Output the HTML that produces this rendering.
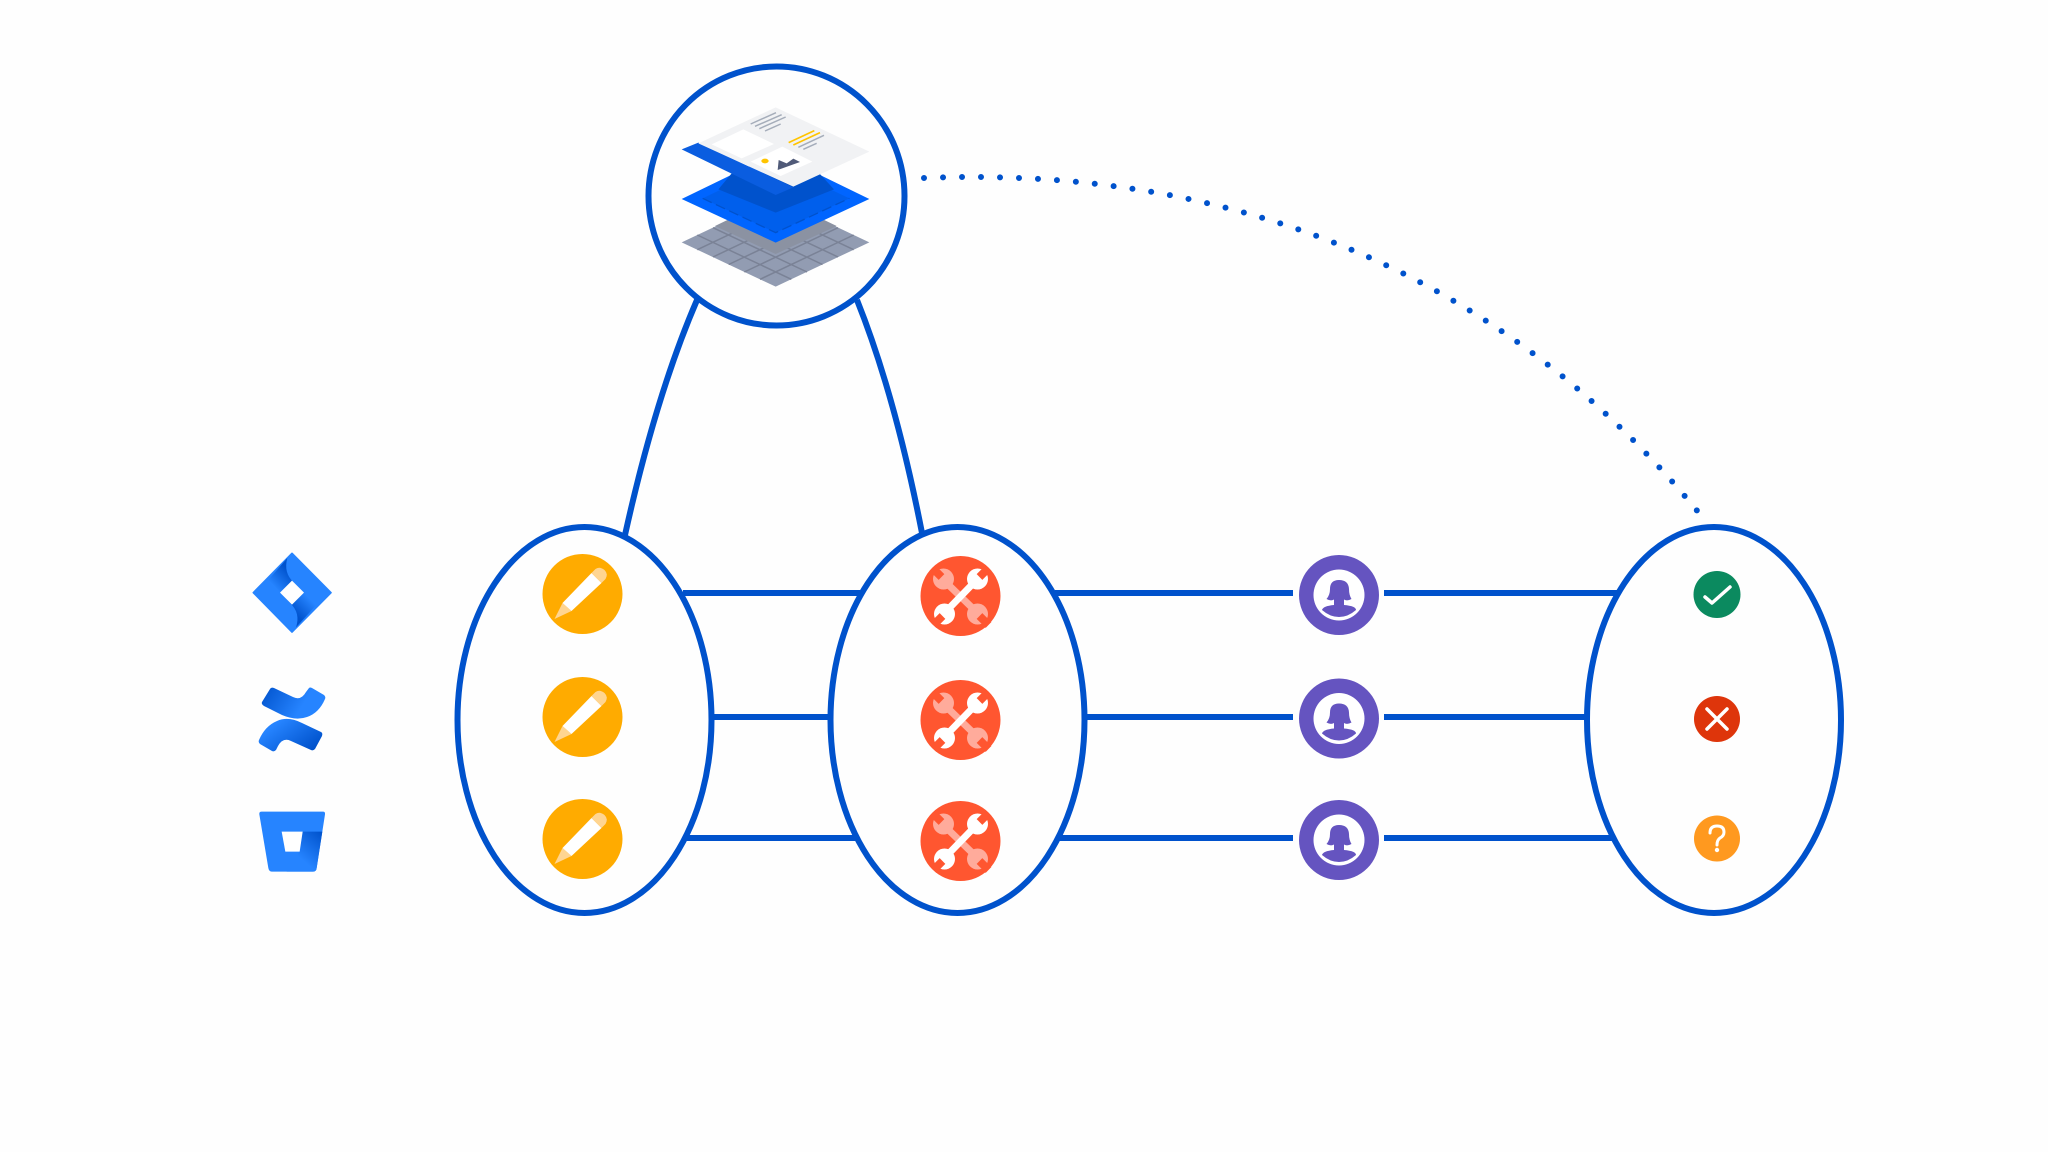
<!DOCTYPE html>
<html><head><meta charset="utf-8"><style>html,body{margin:0;padding:0;background:#fefefe}svg{display:block}</style></head>
<body>
<svg xmlns="http://www.w3.org/2000/svg" width="2048" height="1152" viewBox="0 0 2048 1152">
<defs>
<linearGradient id="g3" x1="0" y1="0" x2="1" y2="0.300"><stop offset="0" stop-color="#0052cc"/><stop offset=".75" stop-color="#2684ff"/></linearGradient>
<linearGradient id="g2" x1="1" y1="0.700" x2="0" y2="0"><stop offset="0" stop-color="#0052cc"/><stop offset=".75" stop-color="#2684ff"/></linearGradient>
<linearGradient id="j1" gradientUnits="userSpaceOnUse" x1="172" y1="118" x2="125" y2="162"><stop offset="0" stop-color="#0052cc"/><stop offset="1" stop-color="#2684ff"/></linearGradient>
<linearGradient id="j2" gradientUnits="userSpaceOnUse" x1="202" y1="260" x2="248" y2="215"><stop offset="0" stop-color="#0052cc"/><stop offset="1" stop-color="#2684ff"/></linearGradient>
<linearGradient id="b1" gradientUnits="userSpaceOnUse" x1="278" y1="908" x2="212" y2="985"><stop offset="0" stop-color="#0052cc"/><stop offset="1" stop-color="#2684ff"/></linearGradient>
<g id="pencil">
<circle r="40" fill="#ffab00"/>
<path d="M-28 25 L-20 9 L-11 17 Z" fill="#ffd591"/>
<path d="M-20 9 L9 -21 L19 -11 L-11 17 Z" fill="#fff"/>
<path d="M9 -21 L13 -25 Q17 -28 22 -24 Q26 -20 23 -15 L19 -11 Z" fill="#ffd591"/>
</g>
<g id="wrench">
<circle r="40" fill="#ff5630"/>
<path d="M-16 -15 L16 16" stroke="#ffab9b" stroke-width="7" fill="none"/>
<circle cx="-17" cy="-17" r="10.500" fill="#ffab9b"/>
<circle cx="17" cy="18" r="10.500" fill="#ffab9b"/>
<path d="M-19 -19 L-28 -28 M19 20 L28 29" stroke="#ff5630" stroke-width="8" fill="none"/>
<path d="M-16 17 L16 -16" stroke="#fff" stroke-width="7" fill="none"/>
<circle cx="17" cy="-17" r="10.500" fill="#fff"/>
<circle cx="-16" cy="18" r="10.500" fill="#fff"/>
<path d="M19 -19 L28 -28 M-18 20 L-27 29" stroke="#ff5630" stroke-width="8" fill="none"/>
</g>
<g id="person">
<circle r="40" fill="#6554c0"/>
<circle r="25.500" fill="#fff"/>
<path d="M-12.500 4 Q-9 0 -9 -6 Q-9 -15 0 -15 Q9.500 -15 10 -6 Q10 0 12.500 4 Q8 6.500 5 4.500 L5 10 Q17 11 17 15 Q9 22 0 22 Q-9 22 -17 15 Q-16 11 -5 10 L-5 4.500 Q-8 6.500 -12.500 4 Z" fill="#6554c0"/>
</g>
</defs>

<rect width="2048" height="1152" fill="#fefefe"/>

<!-- connectors -->
<g fill="none" stroke="#0052cc" stroke-width="6">
<path d="M697 300 Q656 395 625 535"/>
<path d="M857 300 Q895 395 922 533"/>
<path d="M683 593H860M1055 593H1293M1384 593H1620"/>
<path d="M713 717H828M1087 717H1293M1384 717H1585"/>
<path d="M685 838H857M1058 838H1293M1384 838H1615"/>
<ellipse cx="584.500" cy="720" rx="127" ry="193"/>
<ellipse cx="957.500" cy="720" rx="127" ry="193"/>
<ellipse cx="1714" cy="720" rx="127" ry="193"/>
<ellipse cx="776.500" cy="196" rx="128" ry="129.500"/>
<path d="M924 178 C1240 165 1512 278 1707 523" stroke-width="6" stroke-linecap="round" stroke-dasharray="0 19"/>
</g>

<!-- stack illustration -->
<g transform="translate(630 50) scale(.33333)">
<path d="M155 577 L437 444 L718 577 L437 710 Z" fill="#929cb2"/>
<g stroke="#7a8296" stroke-width="4.500" fill="none">
<path d="M390 688L671 555M343 666L624 533M296 643.500L577 510.500M249 621L530 488M202 599L483 466"/>
<path d="M484 688L202 555M531 666L249 533M577.500 643.500L295.500 510.500M624 621L342 488M671 599L389 466"/>
</g>
<path d="M255 528 L437 612 L620 528 L437 440 Z" fill="#8b92a2"/>
<path d="M155 447 L437 310 L718 447 L437 578 Z" fill="#0065ff"/>
<path d="M218 445 L437 548 L658 445 L437 340 Z" fill="#005fec"/>
<path d="M265 418 L437 488 L612 418 L568 370 L305 370 Z" fill="#0052cc"/>
<path d="M218 445 L437 548 L658 445" fill="none" stroke="#0052cc" stroke-width="4" stroke-dasharray="30 14"/>
<path d="M155 298 L205 278 L490 412 L437 435 Z" fill="#0a5de0"/>
<path d="M205 280 L437 172 L718 305 L490 410 Z" fill="#f1f2f4"/>
<path d="M245 283 L340 238 L432 282 L335 325 Z" fill="#fff"/>
<path d="M362 335 L457 290 L547 335 L452 378 Z" fill="#fff"/>
<ellipse cx="405" cy="333" rx="11" ry="7" fill="#ffc400"/>
<path d="M443 360 L446 330 L470 340 L490 326 L510 336 Z" fill="#505a78"/>
<g stroke="#a5adba" stroke-width="4.500" fill="none">
<path d="M362 222 L438 188M375 229 L455 194M388 236 L467 201M405 243 L452 222M505 292 L582 256M520 298 L560 280"/>
</g>
<path d="M476 278 L553 242M490 285 L570 248" stroke="#ffc400" stroke-width="5" fill="none"/>
</g>

<!-- logos -->
<g transform="translate(230 530) scale(.33333)">
<path d="M186 70 L303 188 L186 306 L70 188 Z" fill="#2684ff" stroke="#2684ff" stroke-width="5" stroke-linejoin="round"/>
<path d="M172 84 Q160 128 190 156 L218 188 L186 156 L152 188 L115 150 Z" fill="url(#j1)"/>
<path d="M198 292 Q212 250 182 221 L152 188 L186 221 L222 188 L258 226 Z" fill="url(#j2)"/>
<path d="M186 152 L222 188 L186 224 L150 188 Z" fill="#fff"/>
</g>
<path d="M270 689 Q271 687 274 688 L293 697 Q301 701 306 692 L309 688 Q310 687 312 688 L324 695 Q326 697 325 699 Q319 713 307 717 Q296 721 282 715 L264 706 Q261 704 262 702 Z" fill="url(#g3)"/>
<path d="M259 740 Q265 726 277 721 Q288 716 302 723 L321 732 Q323 733 322 736 L315 749 Q313 751 311 750 L291 741 Q283 737 278 746 L276 750 Q274 752 272 751 L260 744 Q258 742 259 740 Z" fill="url(#g2)"/>
<g transform="translate(230 530) scale(.33333)">
<path d="M95 845 H279 Q286 845 285 853 L260 1014 Q259 1025 250 1025 H125 Q117 1025 115 1014 L88 853 Q87 845 95 845 Z" fill="#2684ff"/>
<path d="M218 905 L277 905 L260 1014 Q259 1025 250 1025 L170 1025 L208 965 Z" fill="url(#b1)"/>
<path d="M155 905 H218 L209 965 H166 Z" fill="#fff"/>
</g>

<!-- nodes -->
<use href="#pencil" x="582.500" y="594"/>
<use href="#pencil" x="582.500" y="717"/>
<use href="#pencil" x="582.500" y="839"/>
<use href="#wrench" x="960.500" y="596"/>
<use href="#wrench" x="960.500" y="720"/>
<use href="#wrench" x="960.500" y="841"/>
<use href="#person" x="1339" y="595"/>
<use href="#person" x="1339" y="718.500"/>
<use href="#person" x="1339" y="840"/>

<!-- status -->
<circle cx="1717" cy="594.500" r="23.500" fill="#0b8a5f"/>
<path d="M1705 597 L1712 603 L1730 587" fill="none" stroke="#fff" stroke-width="3.500" stroke-linecap="round" stroke-linejoin="round"/>
<circle cx="1717" cy="719" r="23" fill="#de350b"/>
<path d="M1707 709 L1727 729 M1727 709 L1707 729" fill="none" stroke="#fff" stroke-width="3.500" stroke-linecap="round"/>
<circle cx="1717" cy="838.500" r="23" fill="#ff991f"/>
<path d="M1710 833 Q1710 826 1717 826 Q1724 826 1724 832 Q1724 836 1720 838 Q1717 840 1717 845" fill="none" stroke="#fff" stroke-width="3" stroke-linecap="round"/>
<circle cx="1717" cy="850" r="2.200" fill="#fff"/>
</svg>
</body></html>
